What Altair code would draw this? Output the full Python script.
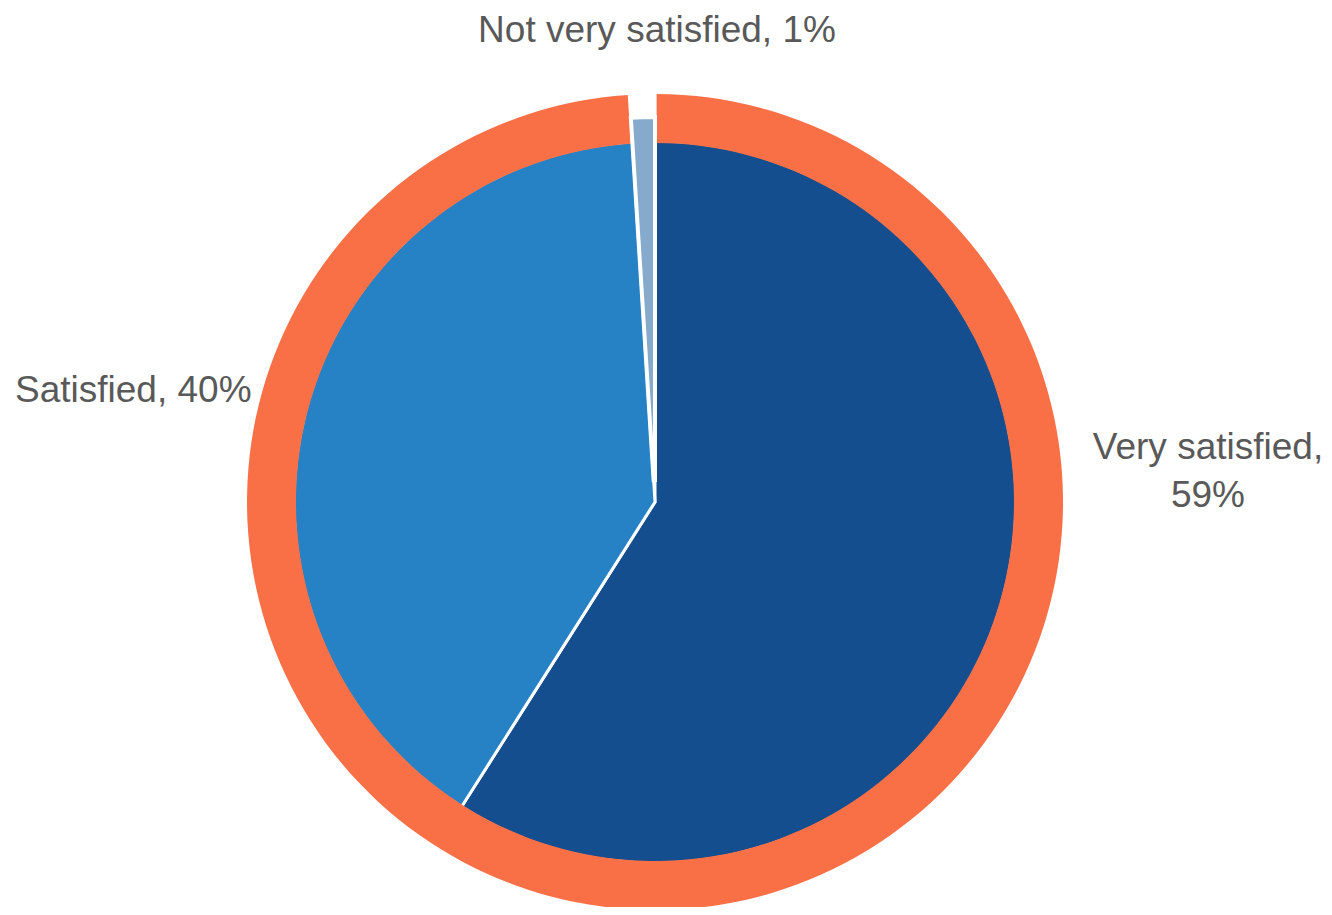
import altair as alt
import pandas as pd

# ---- data ----
categories = ["Very satisfied", "Satisfied", "Not very satisfied"]
values = [59, 40, 1]
order_idx = [0, 1, 2]
slice_colors = ["#154E8F", "#2682C5", "#85AACB"]
ring_color = "#F96F46"

df = pd.DataFrame({"cat": categories, "value": values, "ord": order_idx})

CX, CY = 647, 494
FONT = "Liberation Sans"
TXT = "#595959"
FS = 37

base = alt.Chart(df)
theta = alt.Theta("value:Q", stack=True)
order = alt.Order("ord:Q")
color = alt.Color("cat:N", scale=alt.Scale(domain=categories, range=slice_colors), legend=None)
is_small = alt.datum.cat == "Not very satisfied"

pie = base.mark_arc(radius=361, stroke="white", strokeWidth=3, x=CX, y=CY).encode(
    theta=theta, order=order, color=color,
    opacity=alt.condition(is_small, alt.value(0), alt.value(1)),
)

ring = (
    base.transform_calculate(grp="datum.cat == 'Not very satisfied' ? 'b_gap' : 'a_ring'")
    .transform_aggregate(total="sum(value)", groupby=["grp"])
    .mark_arc(radius=408, radius2=359, padAngle=0.006, x=CX, y=CY)
    .encode(
        theta=alt.Theta("total:Q", stack=True),
        order=alt.Order("grp:N"),
        color=alt.value(ring_color),
        opacity=alt.condition(alt.datum.grp == "b_gap", alt.value(0), alt.value(1)),
    )
)

exploded = base.mark_arc(radius=385, radius2=22, stroke="white", strokeWidth=4, x=CX, y=CY).encode(
    theta=theta, order=order, color=color,
    opacity=alt.condition(is_small, alt.value(1), alt.value(0)),
)

def label_layer(cat, expr, **kw):
    return (
        base.transform_filter(alt.datum.cat == cat)
        .transform_calculate(label=expr)
        .mark_text(font=FONT, fontSize=FS, color=TXT, baseline="alphabetic", lineBreak="\n",
                   lineHeight=48, **kw)
        .encode(text="label:N")
    )

lab_small = label_layer("Not very satisfied", "datum.cat + ', ' + datum.value + '%'",
                        align="center", x=649, y=34)
lab_sat = label_layer("Satisfied", "datum.cat + ', ' + datum.value + '%'",
                      align="left", x=7, y=394)
lab_very = label_layer("Very satisfied", "datum.cat + ',\\n' + datum.value + '%'",
                       align="center", x=1200, y=451)

chart = (
    alt.layer(pie, ring, exploded, lab_small, lab_sat, lab_very)
    .properties(width=1316, height=899, autosize=alt.AutoSizeParams(type="none"), padding=0)
    .configure_view(stroke=None)
)

chart.save("out.html", embed_options={"renderer": "svg", "actions": False})
